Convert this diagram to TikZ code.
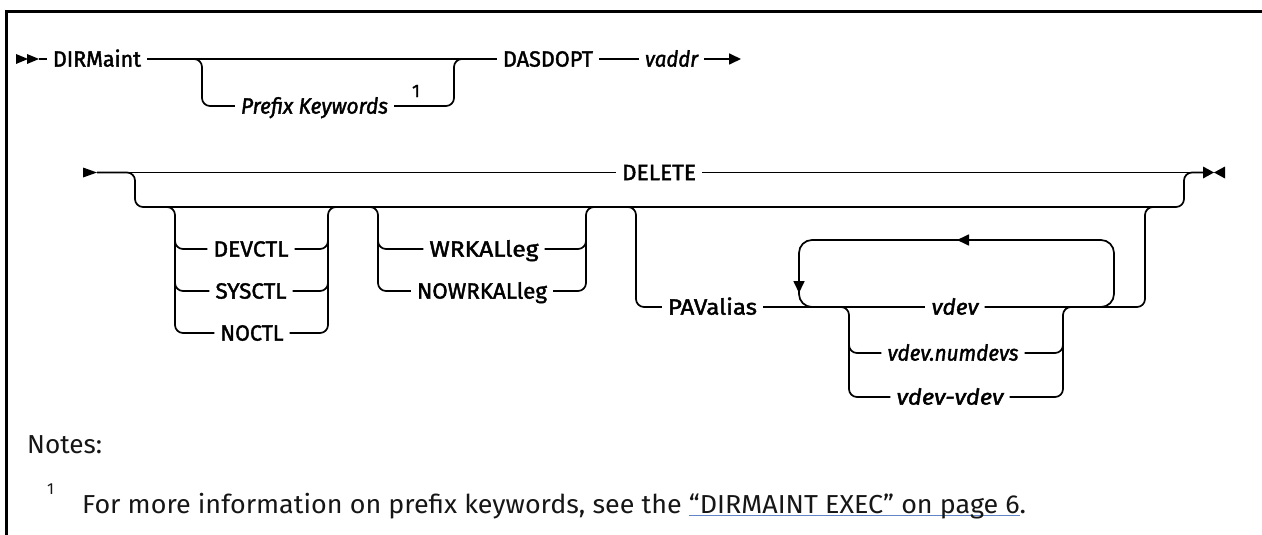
\documentclass[tikz,border=0pt]{standalone}
\usepackage{fontspec}
\usepackage{graphicx}
\setmainfont{Fira Sans}
\newfontfamily\kwfont{Fira Sans}[FakeBold=1.8]
\usetikzlibrary{arrows.meta}
\definecolor{linkblue}{RGB}{96,132,200}
\definecolor{ink}{RGB}{22,22,22}
\newsavebox\lnkbox
\newcommand\lnkul[1]{\sbox\lnkbox{#1}\rlap{\textcolor{linkblue}{\rule[-3.2pt]{\wd\lnkbox}{1.4pt}}}\usebox\lnkbox}
\newsavebox\fitbox
\newcommand\fitw[2]{\sbox\fitbox{#2}\pgfmathsetmacro\fitsx{#1pt/\the\wd\fitbox}\scalebox{\fitsx}[1]{\usebox\fitbox}}
\begin{document}
\begin{tikzpicture}[x=1pt,y=-1pt,
  rail/.style={line width=1.7pt, rounded corners=8pt},
  kw/.style={font=\kwfont\fontsize{22}{24}\selectfont, inner xsep=6pt, inner ysep=0pt, text height=15.2pt, text depth=0pt},
  var/.style={kw, font=\kwfont\fontsize{22}{24}\selectfont\itshape},
  supr/.style={font=\kwfont\fontsize{18}{20}\selectfont, inner sep=0pt},
  notes/.style={font=\fontsize{26}{30}\selectfont, inner sep=0pt, text=ink},
  tip/.style={-{Triangle[length=12pt,width=11pt]}, line width=1.7pt}]
\useasboundingbox (0,0) rectangle (1262,535);
% frame
\draw[line width=3pt] (1262,12) -- (6.5,12) -- (6.5,535);

% ---------- row 1 ----------
\fill (16,54) -- (28,59) -- (16,64) -- cycle;
\fill (27,54) -- (39,59) -- (27,64) -- cycle;
\coordinate (s1) at (39,59);
\node[kw] (dirm) at (97,59) {\fitw{88}{DIRMaint}};
\node[var] (pk) at (314.5,106) {\fitw{147}{Prefix Keywords}};
\node[supr] (n1) at (416,91) {1};
\node[kw] (dasd) at (548,59) {\fitw{90}{DASDOPT}};
\node[var] (vaddr) at (671.5,59) {\fitw{53}{vaddr}};
\coordinate (e1) at (741,59);
\coordinate (b1l) at (202,106);
\coordinate (b1r) at (454,106);

\draw[rail] (s1) -- (dirm.west);
\draw[rail] (dirm.east) -- (dasd.west);
\draw[rail] (dirm.east) -| (b1l) -- (pk.west);
\draw[rail] (pk.east) -- (b1r) |- (dasd.west);
\draw[rail] (dasd.east) -- (vaddr.west);
\draw[tip] (vaddr.east) -- (e1);

% ---------- row 2 ----------
\fill (83,167.5) -- (97,172.5) -- (83,177.5) -- cycle;
\coordinate (s2) at (97,172.5);
\node[kw] (del) at (659,172.5) {\fitw{74}{DELETE}};
\coordinate (e2) at (1203,172.5);
\fill (1203,166.5) -- (1214,172.5) -- (1203,178.5) -- cycle;
\fill (1225,166.5) -- (1214,172.5) -- (1225,178.5) -- cycle;
\draw[rail] (s2) -- (del.west);
\draw[rail] (del.east) -- (e2);

\coordinate (L1l) at (135,207);
\coordinate (L1r) at (1184,207);
\draw[rail] (s2) -| (L1l) -- (L1r) |- (e2);

% group 1
\node[kw] (devctl) at (251,249) {\fitw{75}{DEVCTL}};
\node[kw] (sysctl) at (251,291) {\fitw{71}{SYSCTL}};
\node[kw] (noctl) at (252,333) {\fitw{63}{NOCTL}};
\coordinate (g1lt) at (163,207);
\coordinate (g1lb) at (175,333);
\coordinate (g1la) at (175,225);
\coordinate (g1rx) at (328,207);
\coordinate (g1rt) at (340,207);
\coordinate (g1ra) at (328,225);
\draw[rail] (g1lt) -| (g1lb) -- (noctl.west);
\draw[rail] (g1la) |- (devctl.west);
\draw[rail] (g1la) |- (sysctl.west);
\draw[rail] (noctl.east) -| (g1rx) -- (g1rt);
\draw[rail] (devctl.east) -| (g1ra);
\draw[rail] (sysctl.east) -| (g1ra);

% group 2
\node[kw] (wrk) at (484,249) {\fitw{109}{WRKALleg}};
\node[kw] (nowrk) at (482,291) {\fitw{130}{NOWRKALleg}};
\coordinate (g2lt) at (366,207);
\coordinate (g2lb) at (378,291);
\coordinate (g2la) at (378,225);
\coordinate (g2rx) at (586,207);
\coordinate (g2rt) at (598,207);
\coordinate (g2ra) at (586,225);
\draw[rail] (g2lt) -| (g2lb) -- (nowrk.west);
\draw[rail] (g2la) |- (wrk.west);
\draw[rail] (nowrk.east) -| (g2rx) -- (g2rt);
\draw[rail] (wrk.east) -| (g2ra);

% group 3
\node[kw] (pav) at (712.5,307) {\fitw{89}{PAValias}};
\node[var] (vd) at (955,307) {\fitw{47}{vdev}};
\coordinate (g3lt) at (624,207);
\coordinate (g3lb) at (636,307);
\coordinate (g3rx) at (1145,207);
\coordinate (g3rt) at (1157,207);
\draw[rail] (g3lt) -| (g3lb) -- (pav.west);
\draw[rail] (pav.east) -- (vd.west);
\draw[rail] (vd.east) -| (g3rx) -- (g3rt);

% repeat loop
\coordinate (lpa) at (1090,307);
\coordinate (lp1) at (799,240);
\coordinate (lp2) at (1114,240);
\coordinate (lpb) at (825,307);
\draw[rail, rounded corners=13pt] (lpa) -| (lp2) -- (lp1) |- (lpb);
\draw[tip] (975,240) -- (957,240);
\draw[tip] (799,272) -- (799,293);

% group 4
\node[var] (vn) at (953,353) {\fitw{131}{vdev.numdevs}};
\node[var] (vv) at (950,397) {\fitw{107}{vdev-vdev}};
\coordinate (g4lt) at (837,307);
\coordinate (g4lb) at (849,397);
\coordinate (g4la) at (849,330);
\coordinate (g4rx) at (1063,307);
\coordinate (g4rt) at (1075,307);
\coordinate (g4ra) at (1063,330);
\draw[rail] (g4lt) -| (g4lb) -- (vv.west);
\draw[rail] (g4la) |- (vn.west);
\draw[rail] (vv.east) -| (g4rx) -- (g4rt);
\draw[rail] (vn.east) -| (g4ra);

% ---------- notes ----------
\node[notes, anchor=base west] (notes) at (27,453) {\fitw{75}{Notes:}};
\node[notes, font=\fontsize{16}{18}\selectfont, anchor=base west] (fnum) at (47,494) {1};
\node[notes, anchor=base west] (fn) at (82,513) {\fitw{944}{For more information on prefix keywords, see the \lnkul{“DIRMAINT EXEC” on page 6}.}};
\end{tikzpicture}
\end{document}
